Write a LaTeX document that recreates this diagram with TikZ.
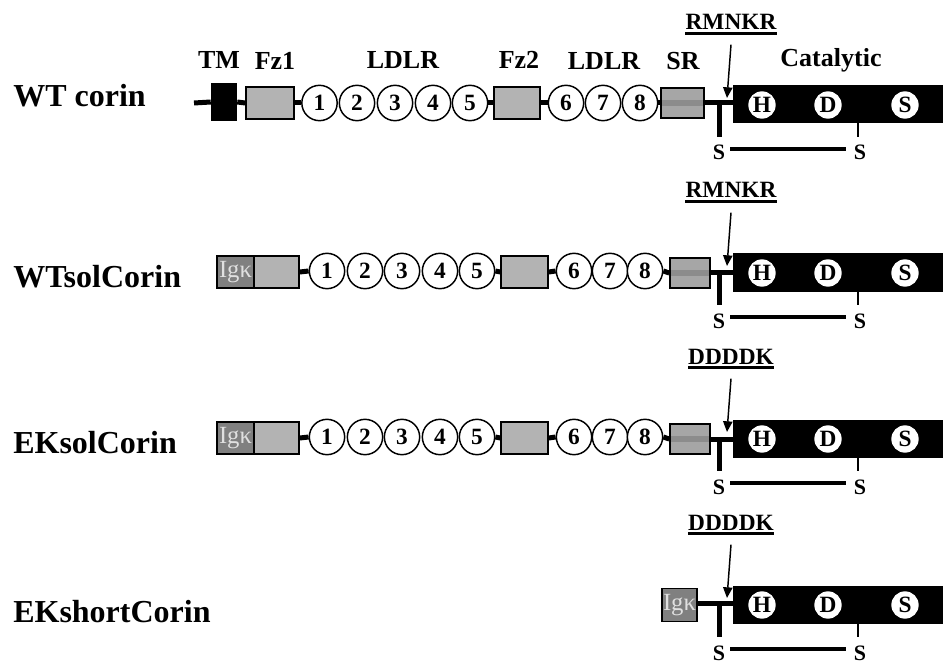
\documentclass[tikz,border=0pt]{standalone}
\usepackage{fontspec}
\setmainfont{Liberation Serif}
\usetikzlibrary{shapes.misc,arrows.meta}
\definecolor{fzgray}{HTML}{B3B3B3}
\definecolor{iggray}{HTML}{808080}
\definecolor{srgray}{HTML}{A6A6A6}
\definecolor{srband}{HTML}{8C8C8C}
\tikzset{
 bb/.style={line width=3.75pt},
 fzbox/.style={chamfered rectangle, chamfered rectangle xsep=1.6pt, draw, line width=1.1pt, fill=fzgray, inner sep=0pt, minimum height=24pt},
 ldl/.style={circle, draw, line width=1.1pt, fill=white, inner sep=0pt, minimum size=26.5pt, font=\fontsize{17.5}{17.5}\selectfont\bfseries},
 srbox/.style={rectangle, draw, line width=1.1pt, fill=srgray, inner sep=0pt, minimum height=22.5pt,
   path picture={\fill[srband] ([yshift=2.2pt]path picture bounding box.west) rectangle ([yshift=-2.2pt]path picture bounding box.east);}},
 tmbox/.style={rectangle, fill=black, inner sep=0pt, minimum width=19.5pt, minimum height=28.5pt},
 catbox/.style={rectangle, fill=black, inner sep=0pt, minimum width=157.5pt, minimum height=28.5pt},
 siteres/.style={circle, fill=white, inner sep=0pt, minimum size=20.5pt, font=\fontsize{17.5}{17.5}\selectfont\bfseries},
 igbox/.style={rectangle, draw, line width=1.1pt, fill=iggray, text=white!88!black, inner sep=0pt, font=\fontsize{18.5}{18.5}\selectfont, minimum height=24pt},
 lbl/.style={font=\fontsize{19.5}{19.5}\selectfont\bfseries, anchor=base, inner sep=0pt},
 rowname/.style={font=\fontsize{24}{24}\selectfont\bfseries, anchor=base west, inner sep=0pt},
 sslbl/.style={font=\fontsize{16.5}{16.5}\selectfont\bfseries, anchor=base, inner sep=0pt},
 motif/.style={font=\fontsize{17.5}{17.5}\selectfont\bfseries, anchor=base, inner sep=0pt},
 arr/.style={line width=1.1pt, -{Triangle[length=8pt,width=7pt]}},
 thickbar/.style={line width=3.75pt},
 smalltick/.style={line width=1.6pt},
 sslink/.style={line width=3.5pt},
}
% catalytic part: #1 suffix, #2 backbone y, #3 motif
\newcommand\catpart[3]{%
 \node[catbox] (cat#1) at (838,#2+1.5) {};
 \node[siteres] (h#1) at (762,#2+2) {H};
 \node[siteres] (d#1) at (828,#2+2) {D};
 \node[siteres] (s#1) at (905,#2+2) {S};
 \coordinate (j#1) at (719,#2);
 \draw[thickbar] (j#1) -- ++(0,34);
 \coordinate (k#1) at (858,#2+20);
 \draw[smalltick] (k#1) -- ++(0,14);
 \node[sslbl] (sa#1) at (719,#2+57) {S};
 \node[sslbl] (sb#1) at (860,#2+57) {S};
 \draw[sslink] (730,#2+46) -- (846,#2+46);
 \node[motif] (m#1) at (731,#2-73) {#3};
 \draw[line width=1.9pt] ([yshift=-2.6pt]m#1.base west) -- ([yshift=-2.6pt]m#1.base east);
 \coordinate (t#1) at (727,#2-5);
 \draw[arr] ([yshift=-11pt]m#1.base) -- (t#1);
}
% soluble N-terminal part: #1 suffix, #2 backbone y
\newcommand\solpart[2]{%
 \node[fzbox, minimum width=33.75pt] (fza#1) at (276.5,#2+1) {};
 \node[igbox, minimum width=27.75pt] (ig#1) at (235.5,#2+1) {Igκ};
 \foreach \i/\x in {1/327,2/365,3/402,4/440,5/477}{\node[ldl] (c#1\i) at (\x,#2) {\i};}
 \node[fzbox, minimum width=35.25pt] (fzb#1) at (524.5,#2+1) {};
 \foreach \i/\x in {6/574,7/610,8/645}{\node[ldl] (c#1\i) at (\x,#2) {\i};}
 \node[srbox, minimum width=30pt] (sr#1) at (690,#2+2) {};
 \draw[bb] (fza#1.east) -- (c#11.west);
 \draw[bb] (c#15.east) -- (fzb#1.west);
 \draw[bb] (fzb#1.east) -- (c#16.west);
 \draw[bb] (c#18.east) -- (sr#1.west);
 \draw[bb] (sr#1.east) -- (sr#1.east -| cat#1.west);
}
\begin{document}
\begin{tikzpicture}[x=0.75pt,y=-0.75pt]
\useasboundingbox (0,0) rectangle (943,663);
% ---------- row 1 : WT corin ----------
\node[rowname] (n1) at (13,107) {WT corin};
\node[lbl] (lTM) at (219,69) {TM};
\node[lbl] (lFz1) at (275,70) {Fz1};
\node[lbl] (lLD1) at (403,69) {LDLR};
\node[lbl] (lFz2) at (519,69) {Fz2};
\node[lbl] (lLD2) at (604,70) {LDLR};
\node[lbl] (lSR) at (683,70) {SR};
\node[lbl] (lCat) at (831,67) {Catalytic};
\catpart{1}{103}{RMNKR}
\coordinate (s1) at (194,103);
\node[tmbox] (tm1) at (224,102) {};
\node[fzbox, minimum width=36pt] (fza1) at (270,103) {};
\foreach \i/\x in {1/319.5,2/357,3/395,4/433,5/470}{\node[ldl] (c1\i) at (\x,103) {\i};}
\node[fzbox, minimum width=34.5pt] (fzb1) at (517,103) {};
\foreach \i/\x in {6/566,7/603,8/640}{\node[ldl] (c1\i) at (\x,103) {\i};}
\node[srbox, minimum width=32.25pt] (sr1) at (682.5,103) {};
\draw[bb] (s1) -- (tm1.west);
\draw[bb] (tm1.east) -- (fza1.west);
\draw[bb] (fza1.east) -- (c11.west);
\draw[bb] (c15.east) -- (fzb1.west);
\draw[bb] (fzb1.east) -- (c16.west);
\draw[bb] (c18.east) -- (sr1.west);
\draw[bb] (sr1.east) -- (sr1.east -| cat1.west);
% ---------- row 2 : WTsolCorin ----------
\node[rowname] (n2) at (13,287) {WTsolCorin};
\catpart{2}{271}{RMNKR}
\solpart{2}{271}
% ---------- row 3 : EKsolCorin ----------
\node[rowname] (n3) at (13,453) {EKsolCorin};
\catpart{3}{437}{DDDDK}
\solpart{3}{437}
% ---------- row 4 : EKshortCorin ----------
\node[rowname] (n4) at (13,622) {EKshortCorin};
\catpart{4}{603}{DDDDK}
\node[igbox, minimum width=26.25pt, minimum height=24.75pt] (ig4) at (679.5,605) {Igκ};
\draw[bb] (ig4.east |- j4) -- (j4 -| cat4.west);
\end{tikzpicture}
\end{document}
